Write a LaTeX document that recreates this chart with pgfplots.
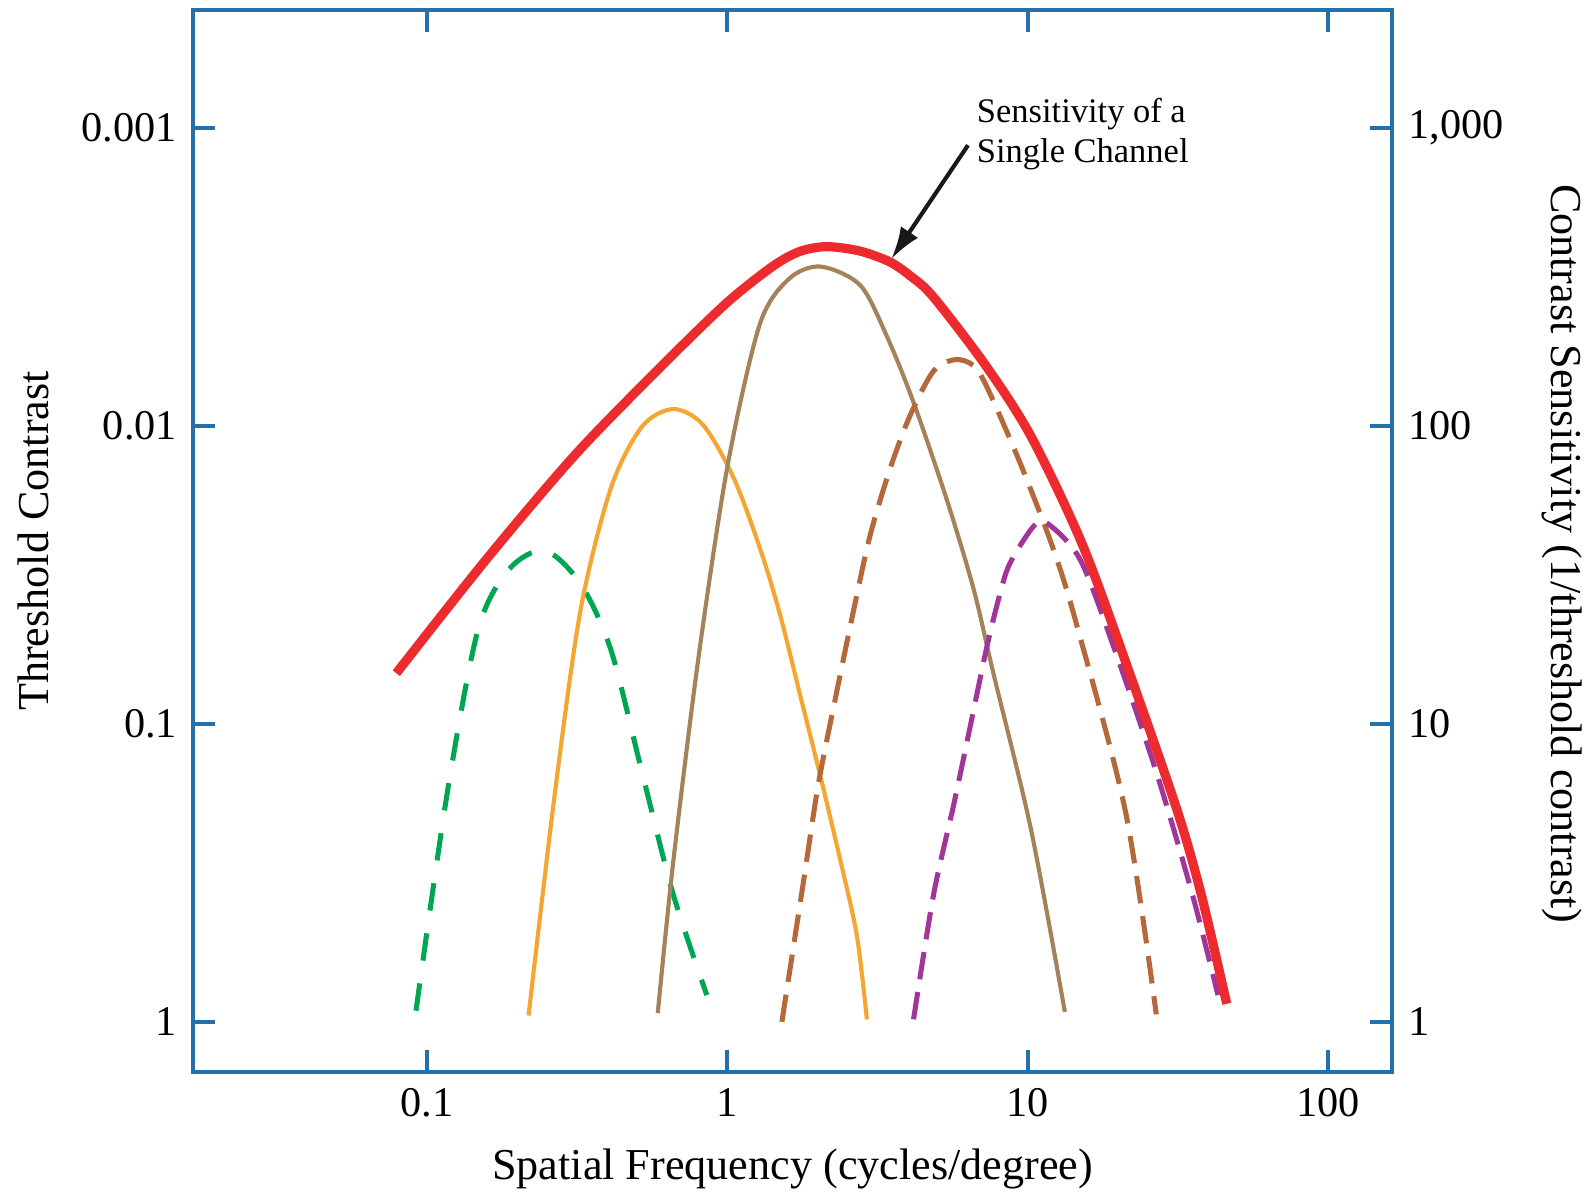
\documentclass[border=0pt]{standalone}
\usepackage{fontspec}
\setmainfont{Liberation Serif}
\usepackage{pgfplots}
\pgfplotsset{compat=1.18}
\usetikzlibrary{arrows.meta}

\definecolor{axisblue}{RGB}{35,112,170}
\definecolor{envred}{RGB}{237,42,46}
\definecolor{chgreen}{RGB}{0,166,81}
\definecolor{chorange}{RGB}{245,165,49}
\definecolor{chtan}{RGB}{165,131,90}
\definecolor{chsienna}{RGB}{181,104,58}
\definecolor{chpurple}{RGB}{160,53,154}

\begin{document}
\begin{tikzpicture}
\begin{axis}[name=ax, clip=false,
    width=260.7pt, height=230.9pt, scale only axis,
    xmode=log, ymode=log,
    xmin=0.01667, xmax=163.3,
    ymin=0.679, ymax=2489,
    xminorticks=false, yminorticks=false,
    axis line style={axisblue, line width=0.9pt},
    tick style={axisblue, line width=0.9pt},
    major tick length=4.8pt,
    tick align=inside,
    /pgf/number format/assume math mode=true,
    tick label style={font=\fontsize{9.2}{11}\selectfont},
    label style={font=\fontsize{9.6}{11.5}\selectfont},
    xtick={0.1,1,10,100}, xticklabels={0.1,1,10,100},
    ytick={1,10,100,1000}, yticklabels={1,0.1,0.01,0.001},
    yticklabel pos=left,
    xlabel={Spatial Frequency (cycles/degree)},
    ylabel={Threshold Contrast},
    xlabel style={at={(axis description cs:0.5,0)}, anchor=base, inner sep=0pt, yshift=-23.3pt},
    ylabel style={at={(axis description cs:-0.1335,0.5)}, anchor=center, inner sep=0pt},
  ]
% green dashed
\addplot[line width=1.1pt, smooth, dash pattern=on 6pt off 5pt, chgreen] coordinates {
  (0.092,1.09) (0.117,5.9) (0.148,20.7) (0.1875,33) (0.247,38.2)
  (0.325,29.5) (0.41,17.7) (0.52,6.9) (0.66,2.69) (0.855,1.23)};
% orange solid
\addplot[line width=0.9pt, smooth, chorange] coordinates {
  (0.218,1.05) (0.267,5.9) (0.325,24.2) (0.41,62) (0.52,99.5) (0.66,114)
  (0.83,101) (1.05,67) (1.287,38.7) (1.5,23.2) (1.748,12.5) (2.038,6.73)
  (2.375,3.51) (2.70,1.95) (2.916,1.02)};
% tan solid
\addplot[line width=0.9pt, smooth, chtan] coordinates {
  (0.587,1.07) (0.66,3.4) (0.80,16.4) (1.0,72.7) (1.28,218) (1.6,311)
  (2.04,343) (2.77,297) (3.40,200) (4.17,120) (5.38,56.6) (6.60,28.5)
  (7.69,14.8) (10.27,4.4) (13.3,1.08)};
% sienna dashed
\addplot[line width=1.1pt, smooth, dash pattern=on 6pt off 2.8pt, chsienna] coordinates {
  (1.52,1.0) (1.794,2.96) (2.012,6.32) (2.317,12.9) (2.632,24.0) (2.99,43.0)
  (3.485,72) (4.063,108.6) (4.86,153) (5.73,167) (6.58,160) (7.31,135.5)
  (9.44,75.1) (12.19,38.5) (14.6,21.3) (21.2,5.04) (26.8,1.06)};
% purple dashed
\addplot[line width=1.1pt, smooth, dash pattern=on 6pt off 2.8pt, chpurple] coordinates {
  (4.17,1.02) (4.86,2.67) (5.66,5.30) (6.44,9.82) (7.32,18.2) (8.10,27.5)
  (8.74,34.7) (10.45,46) (11.6,47.2) (14.96,35.6) (19.5,17.7) (26.8,6.9)
  (35.3,2.69) (43,1.23)};
% envelope
\addplot[line width=2pt, smooth, envred] coordinates {
  (0.0791,14.8) (0.1585,35.9) (0.316,81.3) (0.631,166) (1.0,260) (1.413,343)
  (1.738,385) (2.138,400) (2.754,387) (3.467,356) (4.07,319) (4.84,272)
  (7.24,160) (10.28,92) (15.31,39.4) (22.39,13.8) (31.6,5.05) (38.0,2.63)
  (46.0,1.15)};
\draw[-{Latex[length=7pt,width=4.5pt]}, line width=0.9pt, black!90]
  (axis cs:6.33,876) -- (axis cs:3.52,364);
\node[anchor=west, align=left, inner sep=0pt,
      font=\fontsize{7.5}{8.8}\selectfont]
  at (axis cs:6.73,955) {Sensitivity of a\\Single Channel};
\end{axis}
\begin{axis}[
    width=260.7pt, height=230.9pt, scale only axis,
    xmode=log, ymode=log,
    xmin=0.01667, xmax=163.3,
    ymin=0.679, ymax=2489,
    xminorticks=false, yminorticks=false,
    axis line style={axisblue, line width=0.9pt},
    tick style={axisblue, line width=0.9pt},
    major tick length=4.8pt,
    tick align=inside,
    /pgf/number format/assume math mode=true,
    tick label style={font=\fontsize{9.2}{11}\selectfont},
    label style={font=\fontsize{9.6}{11.5}\selectfont},
    axis x line=none, axis y line*=right,
    ytick={1,10,100,1000}, yticklabels={1,10,100,{1,000}},
    ylabel={Contrast Sensitivity (1/threshold contrast)},
    ylabel style={at={(axis description cs:1.1415,0.488)}, anchor=center,
                  inner sep=0pt, rotate=180},
  ]
\end{axis}
\path ([shift={(-42pt,-26.1pt)}]ax.south west) rectangle ([shift={(43.7pt,2.2pt)}]ax.north east);
\end{tikzpicture}
\end{document}
